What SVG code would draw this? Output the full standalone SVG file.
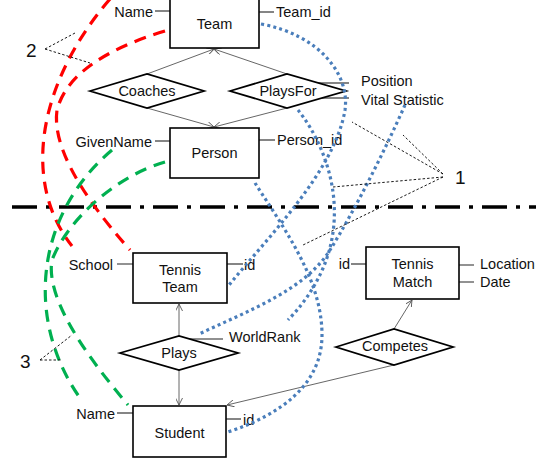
<svg xmlns="http://www.w3.org/2000/svg" width="536" height="463" viewBox="0 0 536 463">
<defs>
<style>
text{font-family:"Liberation Sans",Arial,sans-serif;font-size:14.5px;fill:#111;dominant-baseline:central}
.big{font-size:19px}
.box{fill:#fff;stroke:#000;stroke-width:1.6}
.dia{fill:#fff;stroke:#000;stroke-width:1.8}
.att{stroke:#222;stroke-width:1.1;fill:none}
.attg{stroke:#777;stroke-width:1.6;fill:none}
.con{stroke:#555;stroke-width:0.9;fill:none;marker-end:url(#arr)}
.ptr{stroke:#000;stroke-width:0.9;fill:none;stroke-dasharray:2.5 2}
.red{stroke:#ff0000;stroke-width:3.2;fill:none;stroke-dasharray:12 8}
.grn{stroke:#00b050;stroke-width:3.2;fill:none;stroke-dasharray:12 8}
.blu{stroke:#4a7ebb;stroke-width:3.2;fill:none;stroke-dasharray:3 3.2}
</style>
<marker id="arr" viewBox="0 0 10 10" refX="10" refY="5" markerWidth="7" markerHeight="7" orient="auto" markerUnits="userSpaceOnUse">
<path d="M0,0 L10,5 L0,10" fill="none" stroke="#555" stroke-width="1.3"/>
</marker>
</defs>

<g id="separator">
<line x1="12" y1="207" x2="536" y2="207" stroke="#000" stroke-width="3.5" stroke-dasharray="25 9 4 9"/>
</g>

<g id="connectors">
<line class="con" x1="147" y1="74" x2="214" y2="49"/>
<line class="con" x1="287" y1="74" x2="214" y2="49"/>
<line class="con" x1="147" y1="108" x2="214" y2="127"/>
<line class="con" x1="287" y1="108" x2="214" y2="127"/>
<line class="con" x1="179" y1="336" x2="179" y2="304"/>
<line class="con" x1="179" y1="370" x2="179" y2="405"/>
<line class="con" x1="394" y1="329" x2="412" y2="300"/>
<line class="con" x1="394" y1="365" x2="227" y2="405"/>
<line class="att" x1="155" y1="11" x2="170" y2="11"/>
<line class="att" x1="259" y1="12" x2="274" y2="12"/>
<line class="att" x1="155" y1="141" x2="170" y2="141"/>
<line class="att" x1="259" y1="140" x2="275" y2="140"/>
<line class="att" x1="318" y1="83" x2="349" y2="83"/>
<line class="att" x1="322" y1="98" x2="349" y2="98"/>
<line class="attg" x1="117" y1="264" x2="133" y2="264"/>
<line class="att" x1="227" y1="264" x2="243" y2="264"/>
<line class="att" x1="351" y1="264" x2="366" y2="264"/>
<line class="attg" x1="459" y1="265" x2="474" y2="265"/>
<line class="attg" x1="459" y1="282" x2="474" y2="282"/>
<line class="att" x1="189" y1="339" x2="223" y2="339"/>
<line class="att" x1="117" y1="413" x2="133" y2="413"/>
<line class="att" x1="226" y1="419" x2="241" y2="419"/>
</g>

<g id="Team">
<rect class="box" x="170" y="-2" width="89" height="50"/>
<text x="214.5" y="24" text-anchor="middle">Team</text>
<text x="153" y="12" text-anchor="end">Name</text>
<text x="276" y="12">Team_id</text>
</g>

<g id="Coaches">
<polygon class="dia" points="90,91 147,74 204,91 147,108"/>
<text x="147" y="91" text-anchor="middle">Coaches</text>
</g>

<g id="PlaysFor">
<polygon class="dia" points="230,91 287,74 346,91 287,108"/>
<text x="288" y="91" text-anchor="middle">PlaysFor</text>
<text x="361" y="81">Position</text>
<text x="361" y="100">Vital Statistic</text>
</g>

<g id="Person">
<rect class="box" x="170" y="128" width="89" height="50"/>
<text x="214.5" y="153" text-anchor="middle">Person</text>
<text x="152" y="142" text-anchor="end">GivenName</text>
<text x="277" y="140">Person_id</text>
</g>

<g id="TennisTeam">
<rect class="box" x="133" y="253" width="94" height="50"/>
<text x="180" y="270" text-anchor="middle">Tennis</text>
<text x="180" y="287" text-anchor="middle">Team</text>
<text x="113" y="265" text-anchor="end">School</text>
<text x="244" y="265">id</text>
</g>

<g id="TennisMatch">
<rect class="box" x="366" y="247" width="93" height="52"/>
<text x="412.5" y="264" text-anchor="middle">Tennis</text>
<text x="412.5" y="282" text-anchor="middle">Match</text>
<text x="350" y="264" text-anchor="end">id</text>
<text x="480" y="264">Location</text>
<text x="480" y="282">Date</text>
</g>

<g id="Plays">
<polygon class="dia" points="120,353 179,336 238,353 179,370"/>
<text x="179" y="353" text-anchor="middle">Plays</text>
<text x="229" y="337">WorldRank</text>
</g>

<g id="Competes">
<polygon class="dia" points="336,347 394,329 453,347 394,365"/>
<text x="395" y="346" text-anchor="middle">Competes</text>
</g>

<g id="Student">
<rect class="box" x="133" y="406" width="93" height="51"/>
<text x="179.5" y="433" text-anchor="middle">Student</text>
<text x="115" y="414" text-anchor="end">Name</text>
<text x="243" y="420">id</text>
</g>

<g id="mappings">
<path class="red" d="M110,-1 C40,80 20,180 72,246"/>
<path class="red" d="M165,31 Q70,60 57,110 Q50,160 130,250"/>
<path class="grn" d="M112,150 C35,215 25,320 80,398"/>
<path class="grn" d="M165,162 C120,175 70,215 52,260 C45,300 90,360 128,405"/>
<path class="blu" d="M261,24 C320,35 350,75 345,110 C335,170 270,235 229,285"/>
<path class="blu" d="M298,110 C330,150 365,240 288,320"/>
<path class="blu" d="M405,105 C385,150 355,210 330,250 C305,290 250,310 199,334"/>
<path class="blu" d="M255,183 C285,230 322,280 322,335 C322,385 280,415 228,432"/>
</g>

<g id="labels">
<text class="big" x="26" y="50">2</text>
<line class="ptr" x1="45" y1="49" x2="75" y2="33"/>
<line class="ptr" x1="45" y1="49" x2="90" y2="63"/>
<text class="big" x="455" y="177">1</text>
<line class="ptr" x1="443" y1="174" x2="352" y2="122"/>
<line class="ptr" x1="443" y1="174" x2="403" y2="135"/>
<line class="ptr" x1="443" y1="177" x2="333" y2="187"/>
<line class="ptr" x1="443" y1="177" x2="303" y2="245"/>
<text class="big" x="20" y="361">3</text>
<line class="ptr" x1="40" y1="360" x2="72" y2="335"/>
<line class="ptr" x1="40" y1="360" x2="62" y2="360"/>
</g>
</svg>
